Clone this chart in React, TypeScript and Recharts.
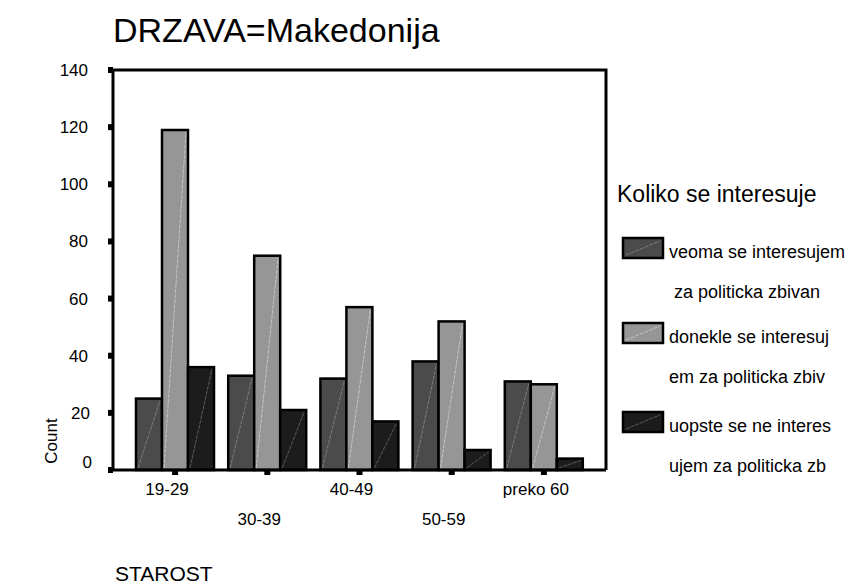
import { BarChart, Bar, XAxis, YAxis } from 'recharts';

const ageGroups = ['19-29', '30-39', '40-49', '50-59', 'preko 60'];
const veoma = [25, 33, 32, 38, 31];
const donekle = [119, 75, 57, 52, 30];
const uopste = [36, 21, 17, 7, 4];
const yTicks = [0, 20, 40, 60, 80, 100, 120, 140];

const series = [
  { key: 'veoma', fill: '#4b4b4b', hatch: '#7c7c7c', lines: ['veoma se interesujem', ' za politicka zbivan'] },
  { key: 'donekle', fill: '#969696', hatch: '#c4c4c4', lines: ['donekle se interesuj', 'em za politicka zbiv'] },
  { key: 'uopste', fill: '#1c1c1c', hatch: '#5a5a5a', lines: ['uopste se ne interes', 'ujem za politicka zb'] },
];

const data = ageGroups.map((g, i) => ({
  group: g,
  veoma: veoma[i],
  donekle: donekle[i],
  uopste: uopste[i],
}));

const FONT = '"Liberation Sans", Arial, sans-serif';
const W = 850;
const H = 588;
const margin = { top: 70, right: 244, left: 63, bottom: 78 };
const Y_AXIS_W = 50;
const X_AXIS_H = 40;

function HatchBar(props: any) {
  const { x, y, width, height, fill, hatch } = props;
  if (!height || height <= 0) return null;
  return (
    <g>
      <rect x={x} y={y} width={width} height={height} fill={fill} stroke="#000" strokeWidth={2.5} />
      <line
        x1={x + 2}
        y1={y + height - 2}
        x2={x + width - 2}
        y2={y + 2}
        stroke={hatch}
        strokeWidth={1}
        strokeDasharray="4 1"
      />
    </g>
  );
}

function XTick(props: any) {
  const { x, y, payload, index } = props;
  const dy = index % 2 === 0 ? 18 : 48;
  return (
    <text x={x - 8} y={y + dy} textAnchor="middle" fontSize={17} fontFamily={FONT} fill="#000">
      {payload.value}
    </text>
  );
}

function YTick(props: any) {
  const { x, y, payload } = props;
  const shiftY = payload.value === 0 ? -8 : 0;
  const shiftX = payload.value === 0 ? 4 : payload.value === 20 ? 2 : 0;
  return (
    <text x={x + shiftX} y={y + shiftY + 6} textAnchor="end" fontSize={17} fontFamily={FONT} fill="#000">
      {payload.value}
    </text>
  );
}

export default function App() {
  const plotLeft = margin.left + Y_AXIS_W;
  const plotTop = margin.top;
  const plotRight = W - margin.right;
  const plotBottom = H - margin.bottom - X_AXIS_H;

  return (
    <div style={{ position: 'absolute', left: 0, top: 0, width: W, height: H, background: '#fff' }}>
      <BarChart width={W} height={H} data={data} margin={margin} barCategoryGap={7} barGap={0}>
        <XAxis
          dataKey="group"
          height={X_AXIS_H}
          padding={{ left: 16, right: 16 }}
          axisLine={{ stroke: '#000', strokeWidth: 3 }}
          tickLine={{ stroke: '#000', strokeWidth: 6 }}
          tickSize={5}
          tick={<XTick />}
          interval={0}
        />
        <YAxis
          width={Y_AXIS_W}
          domain={[0, 140]}
          ticks={yTicks}
          axisLine={{ stroke: '#000', strokeWidth: 3 }}
          tickLine={{ stroke: '#000', strokeWidth: 6 }}
          tickSize={5}
          tickMargin={20}
          tick={<YTick />}
          interval={0}
        />
        {series.map((s) => (
          <Bar
            key={s.key}
            dataKey={s.key}
            fill={s.fill}
            isAnimationActive={false}
            shape={(p: any) => <HatchBar {...p} fill={s.fill} hatch={s.hatch} />}
          />
        ))}
      </BarChart>

      <svg
        width={W}
        height={H}
        style={{ position: 'absolute', left: 0, top: 0, pointerEvents: 'none' }}
        fontFamily={FONT}
      >
        {/* top and right edges of the plot frame */}
        <polyline
          points={`${plotLeft},${plotTop} ${plotRight},${plotTop} ${plotRight},${plotBottom}`}
          fill="none"
          stroke="#000"
          strokeWidth={3}
        />

        <text x={113} y={42} fontSize={34} fill="#000">DRZAVA=Makedonija</text>
        <text x={0} y={0} fontSize={17} fill="#000" textAnchor="middle" transform="translate(57 441) rotate(-90)">
          Count
        </text>
        <text x={115} y={581} fontSize={21} fill="#000">STAROST</text>

        <text x={617} y={202} fontSize={23} fill="#000">Koliko se interesuje</text>
        {series.map((s, i) => {
          const top = [238, 323, 412][i];
          return (
            <g key={s.key}>
              <rect x={623} y={top} width={40} height={20} fill={s.fill} stroke="#000" strokeWidth={2.5} />
              <line x1={626} y1={top + 17} x2={660} y2={top + 3} stroke={s.hatch} strokeWidth={1} strokeDasharray="4 1" />
              <text x={669} y={top + 20} fontSize={18} fill="#000" style={{ whiteSpace: 'pre' }}>{s.lines[0]}</text>
              <text x={669} y={top + 60} fontSize={18} fill="#000" style={{ whiteSpace: 'pre' }}>{s.lines[1]}</text>
            </g>
          );
        })}
      </svg>
    </div>
  );
}
